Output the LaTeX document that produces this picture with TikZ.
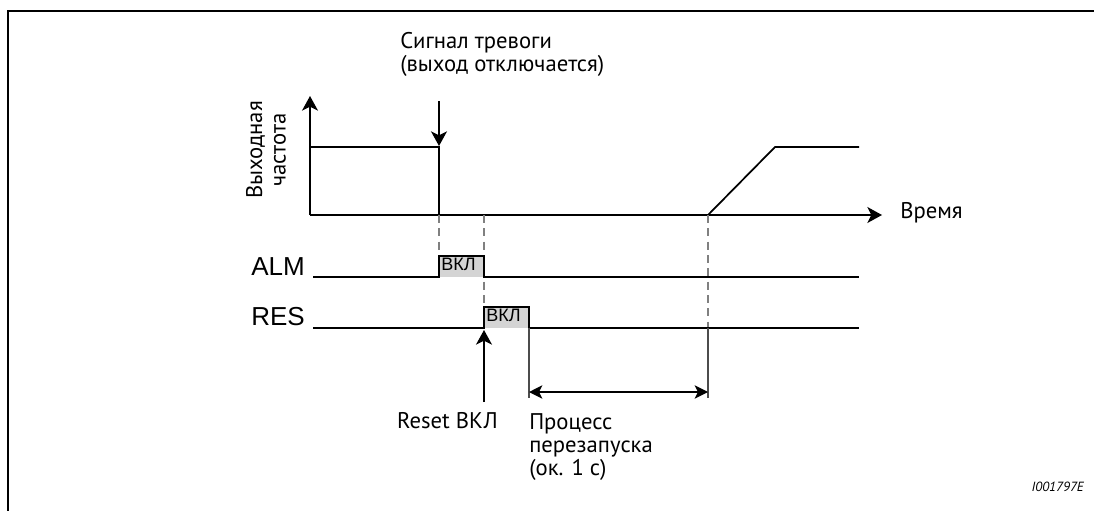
\documentclass[tikz,border=0pt]{standalone}
\usepackage{fontspec}
\setmainfont{PT Sans}
\newfontfamily\arialfont{Liberation Sans}
\usepackage{tikz}
\usetikzlibrary{positioning, arrows.meta, calc}
\definecolor{grigio}{HTML}{D4D4D4}
\definecolor{tratto}{HTML}{808080}
\tikzset{
	>={Stealth[length=11pt, width=12pt, inset=3pt]},
	% cornice della figura
	cornice/.style={line width=1.6pt},
	% assi del grafico
	asse/.style={->, line width=1.3pt},
	% forma d'onda
	onda/.style={line width=1.3pt, line join=miter},
	% impulso attivo
	impulso/.style={fill=grigio},
	% linea guida tratteggiata
	guida/.style={tratto, line width=1pt, dash pattern=on 6pt off 4pt},
	% linea guida continua
	guidapiena/.style={black!70, line width=0.9pt},
	% freccia di evento
	evento/.style={->, line width=1.3pt},
	% quota (durata)
	quota/.style={<->, line width=1.3pt, >={Stealth[length=10pt, width=10pt, inset=2.5pt]}},
	% testi
	testo/.style={font=\fontsize{17}{17.5}\selectfont, inner sep=0pt, align=left},
	nome/.style={font=\arialfont\fontsize{19.5}{22}\selectfont, inner sep=0pt},
	stato/.style={font=\arialfont\fontsize{13.5}{15}\selectfont, inner sep=0pt},
	codice/.style={font=\fontsize{10}{12}\selectfont\itshape, inner sep=0pt},
}

\begin{document}
\begin{tikzpicture}[x=0.75pt, y=-0.75pt]
    \useasboundingbox (0,0) rectangle (1094,510);
    \draw[cornice] (8,512) -- (8,11) -- (1096,11);
    % istanti
    \coordinate (o) at (310,215);
    \coordinate (tA) at (439,215);
    \coordinate (tR) at (484,215);
    \coordinate (tF) at (529,215);
    \coordinate (tS) at (708,215);
    \coordinate (fmax) at (310,147);
    \coordinate (almbasso) at (313,277);
    \coordinate (almalto) at (313,256);
    \coordinate (resbasso) at (313,328);
    \coordinate (resalto) at (313,307);
    \coordinate (fine) at (859,215);
    % grafico della frequenza
    \draw[asse] (o) -- (310,96);
    \draw[asse] (o) -- (882,215);
    \node[testo, anchor=base west] (tempo) at (900,218) {Время};
    \node[testo, rotate=90, align=center] (freq) at (266,150) {Выходная\\частота};
    \draw[onda] (fmax) -- (tA |- fmax) -- (tA);
    \draw[onda] (tS) -- (775,147) -- (fine |- fmax);
    \node[testo, anchor=north west] (allarme) at (400,32) {Сигнал тревоги\\(выход отключается)};
    \coordinate (allarmeinizio) at (439,101);
    \draw[evento] (allarmeinizio) -- (439,146);
    % linee guida
    \draw[guida] (tA) -- (tA |- almalto);
    \draw[guida] (tR) -- (tR |- resalto);
    \draw[guida] (tS) -- (tS |- resbasso);
    % segnale ALM
    \node[nome, anchor=base east] (alm) at (305,275) {ALM};
    \fill[impulso] (tA |- almalto) rectangle (tR |- almbasso);
    \draw[onda] (almbasso) -- (tA |- almbasso) -- (tA |- almalto) -- (tR |- almalto) -- (tR |- almbasso) -- (fine |- almbasso);
    \node[stato, anchor=north west] (almon) at (441,258) {ВКЛ};
    % segnale RES
    \node[nome, anchor=base east] (res) at (305,325) {RES};
    \fill[impulso] (tR |- resalto) rectangle (tF |- resbasso);
    \draw[onda] (resbasso) -- (tR |- resbasso) -- (tR |- resalto) -- (tF |- resalto) -- (tF |- resbasso) -- (fine |- resbasso);
    \node[stato, anchor=north west] (reson) at (486,309) {ВКЛ};
    % reset e riavvio
    \coordinate (resetinizio) at (484,402);
    \draw[evento] (resetinizio) -- (484,330);
    \node[testo, anchor=base east] (reset) at (498,428) {Reset ВКЛ};
    \draw[guidapiena] (tF |- resbasso) -- (529,398);
    \draw[guidapiena] (tS |- resbasso) -- (708,398);
    \draw[quota] (529,392) -- (708,392);
    \node[testo, anchor=north west] (riavvio) at (529,413) {Процесс\\перезапуска\\(ок. 1 с)};
    \node[codice, anchor=base east] (id) at (1084,491) {I001797E};
\end{tikzpicture}
\end{document}
